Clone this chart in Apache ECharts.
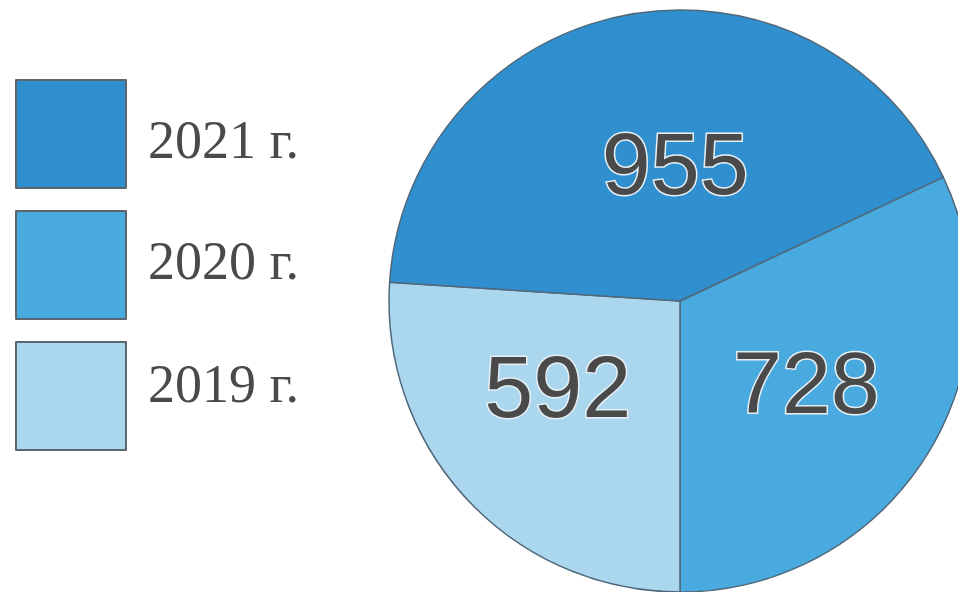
<!DOCTYPE html>
<html>
<head>
<meta charset="utf-8">
<script src="https://cdn.jsdelivr.net/npm/echarts@6/dist/echarts.min.js"></script>
<style>
html,body{margin:0;padding:0;background:#fff;}
#chart{width:958px;height:592px;}
</style>
</head>
<body>
<div id="chart"></div>
<script>
// Data
const years = ['2020 г.', '2019 г.', '2021 г.'];
const values = [728, 592, 955];
const legendOrder = ['2021 г.', '2020 г.', '2019 г.'];

// Styling (not data)
const colors = ['#48aade', '#aad6ee', '#2f8fcf'];
const labelOffsets = [[1, 8], [-14, -10], [23, 15]];
const legendTextStyleKey = ['a', 'b', 'c'];

const legendFont = {
  fontFamily: '"Liberation Serif", "DejaVu Serif", serif',
  fontSize: 54,
  color: '#4a4a4a'
};

const chart = echarts.init(document.getElementById('chart'));
chart.setOption({
  animation: false,
  backgroundColor: '#ffffff',
  legend: {
    data: legendOrder,
    orient: 'vertical',
    left: 10,
    top: 74,
    itemWidth: 110,
    itemHeight: 108,
    itemGap: 21,
    icon: 'rect',
    selectedMode: false,
    itemStyle: { borderColor: '#5b6670', borderWidth: 2 },
    formatter: function (name) {
      const k = legendTextStyleKey[legendOrder.indexOf(name)];
      return '{' + k + '|' + name + '}';
    },
    textStyle: Object.assign({}, legendFont, {
      rich: {
        a: Object.assign({}, legendFont, { padding: [20, 0, 0, 17] }),
        b: Object.assign({}, legendFont, { padding: [0, 0, 0, 17] }),
        c: Object.assign({}, legendFont, { padding: [0, 0, 16, 17] })
      }
    })
  },
  series: [{
    type: 'pie',
    center: [680, 301],
    radius: 291,
    startAngle: 25.2,
    clockwise: true,
    silent: true,
    data: years.map((n, i) => ({
      name: n,
      value: values[i],
      itemStyle: { color: colors[i] },
      label: { offset: labelOffsets[i] }
    })),
    itemStyle: { borderColor: '#50687a', borderWidth: 1.5 },
    label: {
      show: true,
      position: 'inside',
      formatter: '{c}',
      fontFamily: 'Arial, "Liberation Sans", Helvetica, sans-serif',
      fontSize: 88,
      color: '#4a4a4a',
      textBorderColor: '#e6eff5',
      textBorderWidth: 3
    },
    labelLine: { show: false },
    emphasis: { disabled: true }
  }]
});
</script>
</body>
</html>
